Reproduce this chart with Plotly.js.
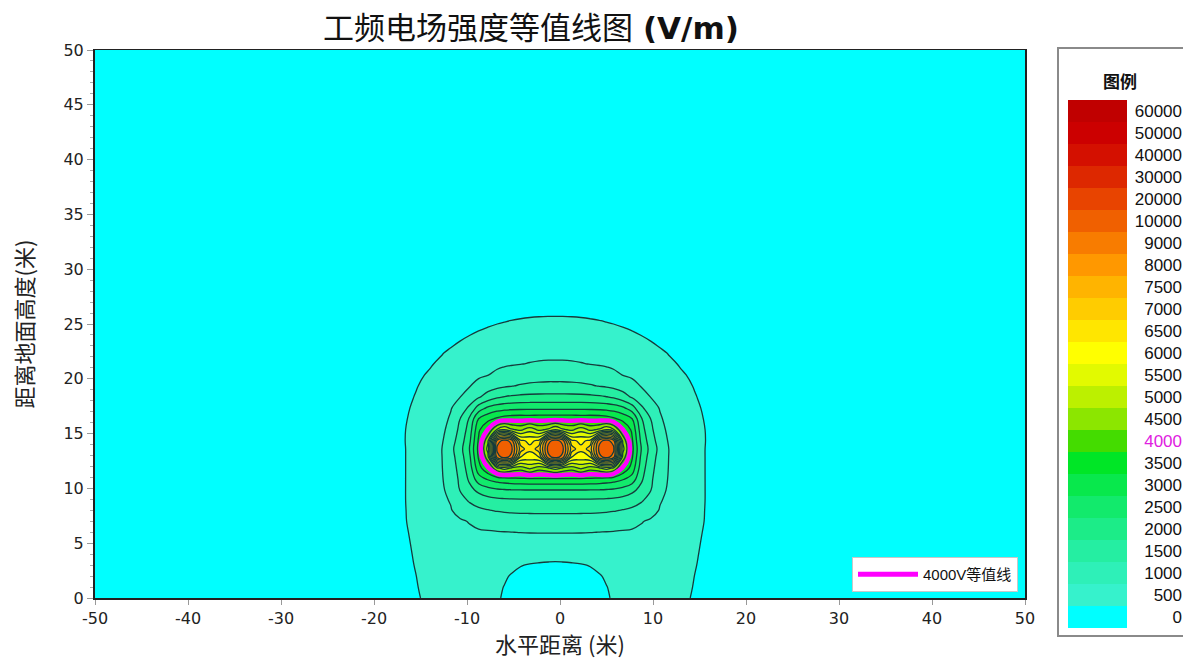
<!DOCTYPE html>
<html><head><meta charset="utf-8">
<script src="https://cdn.plot.ly/plotly-3.0.1.min.js"></script>
<style>html,body{margin:0;padding:0;background:#fff}#chart{width:1183px;height:659px}</style>
</head><body><div id="chart"></div>
<script>
// horizontal positions (m) of the field grid columns
const xPos = [-20.5,-18.5,-17,-15.5,-14,-12.75,-11.75,-10.75,-9.75,-8.75,-7.75,-6.75,-6,-5.25,-4.25,-3.25,-2.25,-1.25,-0.5,0.25,1.25,2.25,3.25,4.25,5,5.75,6.75,7.75,8.75,9.75,10.75,11.75,13,14.5,16,17.5,19.5];
// heights (m) of the field grid rows
const yPos = [0,1,2,3,4,5,6,7,8,8.85,9.85,10.85,11.85,12.85,13.6,14.35,15.35,16.35,17.35,18.35,19.35,20.35,21.35,22.35,24,26,28,30];
// field strength (V/m), one row per height
const fieldRows = [
[330,380,430,480,540,590,625,640,630,600,560,508,492,475,450,435,425,420,420,420,425,435,450,475,492,508,560,600,630,640,625,590,540,480,430,380,330],
[330,380,428,488,560,605,640,650,640,610,570,520,497,480,455,440,430,425,425,425,430,440,455,480,497,520,570,610,640,650,640,605,560,488,428,380,330],
[332,382,428,497,580,630,665,675,660,630,590,545,515,492,472,458,448,442,440,442,448,458,472,492,515,545,590,630,660,675,665,630,580,497,428,382,332],
[335,385,435,510,610,665,700,715,700,670,630,585,555,530,505,492,485,480,478,480,485,492,505,530,555,585,630,670,700,715,700,665,610,510,435,385,335],
[338,390,440,522,650,715,760,780,770,740,700,660,630,605,580,565,555,550,549,550,555,565,580,605,630,660,700,740,770,780,760,715,650,522,440,390,338],
[340,395,447,535,700,790,850,870,880,865,845,825,810,800,790,785,782,780,780,780,782,785,790,800,810,825,845,865,880,870,850,790,700,535,447,395,340],
[343,400,456,550,740,845,910,925,942,951,962,977,988,996,1008,1016,1019,1019,1019,1019,1019,1016,1008,996,988,977,962,951,942,925,910,845,740,550,456,400,343],
[346,405,467,565,770,885,950,960,1017,1124,1194,1240,1260,1275,1285,1290,1292,1292,1292,1292,1292,1290,1285,1275,1260,1240,1194,1124,1017,960,950,885,770,565,467,405,346],
[348,408,466,580,790,915,980,1113,1294,1411,1480,1530,1553,1570,1581,1585,1588,1588,1588,1588,1588,1585,1581,1570,1553,1530,1480,1411,1294,1113,980,915,790,580,466,408,348],
[350,410,467,590,800,935,1018,1317,1535,1699,1793,1850,1872,1885,1896,1900,1901,1901,1901,1901,1901,1900,1896,1885,1872,1850,1793,1699,1535,1317,1018,935,800,590,467,410,350],
[350,410,464,600,810,952,1089,1519,1854,2118,2317,2423,2458,2479,2493,2498,2498,2498,2498,2498,2498,2498,2493,2479,2458,2423,2317,2118,1854,1519,1089,952,810,600,464,410,350],
[350,410,460,610,817,965,1160,1597,2079,2773,3056,3221,3302,3364,3407,3427,3437,3437,3437,3437,3437,3427,3407,3364,3302,3221,3056,2773,2079,1597,1160,965,817,610,460,410,350],
[350,410,456,620,822,973,1230,1675,2227,3298,3925,4900,5200,4950,4750,5100,4750,4950,5200,4950,4750,5100,4750,4950,5200,4900,3925,3298,2227,1675,1230,973,822,620,456,410,350],
[350,410,453,628,824,978,1301,1753,2374,3560,4800,9500,14000,9700,6500,6300,6500,9700,14000,9700,6500,6300,6500,9700,14000,9500,4800,3560,2374,1753,1301,978,824,628,453,410,350],
[350,410,450,637,825,981,1354,1812,2484,3640,5200,13000,18000,14000,7300,6600,7300,14000,18000,14000,7300,6600,7300,14000,18000,13000,5200,3640,2484,1812,1354,981,825,637,450,410,350],
[347,405,464,617,792,939,1275,1727,2366,3570,4900,9500,14000,9700,6600,6400,6600,9700,14000,9700,6600,6400,6600,9700,14000,9500,4900,3570,2366,1727,1275,939,792,617,464,405,347],
[343,400,467,591,747,882,1169,1613,2209,3406,4030,5100,5500,5100,4900,5300,4900,5100,5500,5100,4900,5300,4900,5100,5500,5100,4030,3406,2209,1613,1169,882,747,591,467,400,343],
[338,392,458,565,703,825,1063,1498,2052,3012,3347,3590,3732,3787,3808,3788,3818,3818,3818,3818,3818,3788,3808,3787,3732,3590,3347,3012,2052,1498,1063,825,703,565,458,392,338],
[332,385,448,538,658,769,965,1237,1576,2208,2586,2741,2800,2836,2857,2866,2866,2866,2866,2866,2866,2866,2857,2836,2800,2741,2586,2208,1576,1237,965,769,658,538,448,385,332],
[326,375,430,512,614,712,880,990,1232,1438,1706,1921,2014,2068,2110,2131,2140,2140,2140,2140,2140,2131,2110,2068,2014,1921,1706,1438,1232,990,880,712,614,512,430,375,326],
[318,365,388,486,569,655,795,894,975,1127,1276,1380,1438,1481,1539,1584,1609,1619,1619,1619,1609,1584,1539,1481,1438,1380,1276,1127,975,894,795,655,569,486,388,365,318],
[310,355,375,459,525,599,711,798,872,936,990,1088,1153,1203,1250,1280,1298,1307,1307,1307,1298,1280,1250,1203,1153,1088,990,936,872,798,711,599,525,459,375,355,310],
[302,345,362,433,480,542,626,701,768,828,878,920,946,968,992,1018,1041,1053,1053,1053,1041,1018,992,968,946,920,878,828,768,701,626,542,480,433,362,345,302],
[295,335,350,407,436,486,541,605,665,719,765,805,829,850,873,888,898,904,905,904,898,888,873,850,829,805,765,719,665,605,541,486,436,407,350,335,295],
[275,305,320,365,370,393,400,446,494,540,580,615,637,656,676,691,700,704,705,704,700,691,676,656,637,615,580,540,494,446,400,393,370,365,320,305,275],
[245,265,275,280,285,290,295,298,300,324,355,385,403,420,438,451,459,463,464,463,459,451,438,420,403,385,355,324,300,298,295,290,285,280,275,265,245],
[225,242,250,256,262,268,275,280,285,300,320,340,355,370,375,385,395,400,400,400,395,385,375,370,355,340,320,300,285,280,275,268,262,256,250,242,225],
[210,222,230,236,242,248,255,262,268,280,295,310,320,328,330,335,338,340,340,340,338,335,330,328,320,310,295,280,268,262,255,248,242,236,230,222,210]
];
// contour levels (V/m) as in the legend
const levels = [0,500,1000,1500,2000,2500,3000,3500,4000,4500,5000,5500,6000,6500,7000,7500,8000,9000,10000,20000,30000,40000,50000,60000];
const legendLabels = ['0','500','1000','1500','2000','2500','3000','3500','4000','4500','5000','5500','6000','6500','7000','7500','8000','9000','10000','20000','30000','40000','50000','60000'];
const bandColors = ['#00ffff','#36f2cc','#2ef0b8','#25eea2','#1cec88','#12ea6c','#08e84c','#00e626','#44dc00','#8ce600','#bcf000','#e2fa00','#ffff00','#ffe600','#ffcc00','#ffb400','#ff9800','#f87c00','#f06000','#e84400','#dd2800','#d41000','#cc0000','#c00000'];
const xTickVals = [-50,-40,-30,-20,-10,0,10,20,30,40,50];
const xTickLabels = ['-50','-40','-30','-20','-10','0','10','20','30','40','50'];
const highlightLevel = 4000;
const highlightName = '4000V等值线';

function toIndex(v){
  const n = levels.length;
  if (v >= levels[n-1]) return (n-1) + (v - levels[n-1]) / 10000;
  for (let k = 0; k < n-1; k++){
    if (v < levels[k+1]) return k + (v - levels[k]) / (levels[k+1] - levels[k]);
  }
  return n-1;
}
const zIdx = fieldRows.map(r => r.map(toIndex));
const NB = bandColors.length;
const cscale = [];
for (let k = 0; k < NB; k++){
  const lo = k === 0 ? 0 : (k - 0.25) / NB;
  const hi = k === NB-1 ? 1 : (k + 0.75) / NB;
  cscale.push([lo, bandColors[k]], [hi, bandColors[k]]);
}
const hiIdx = levels.indexOf(highlightLevel);

const traces = [
  {type:'contour', x:xPos, y:yPos, z:zIdx, colorscale:cscale, autocontour:false,
   contours:{start:1, end:NB, size:1, coloring:'fill', showlines:true},
   line:{color:'#163c3c', width:1.3, smoothing:1.2}, showscale:false, showlegend:false, hoverinfo:'skip'},
  {type:'contour', x:xPos, y:yPos, z:zIdx, autocontour:false,
   contours:{start:hiIdx, end:hiIdx, size:1, coloring:'none'},
   line:{color:'#ff00ff', width:4.5, smoothing:1.2}, showscale:false, showlegend:false, hoverinfo:'skip'},
  {type:'scatter', x:[null], y:[null], mode:'lines', name:highlightName,
   line:{color:'#ff00ff', width:5}, hoverinfo:'skip', showlegend:true},
  {type:'heatmap', xaxis:'x2', yaxis:'y2', x:[0], y:legendLabels.map((s,i)=>i),
   z:legendLabels.map((s,i)=>[i+0.25]), zmin:0, zmax:NB, colorscale:cscale,
   showscale:false, showlegend:false, hoverinfo:'skip'}
];

const W = 1183, H = 659;
const layout = {
  width:W, height:H, margin:{l:0,r:0,t:0,b:0,pad:0},
  paper_bgcolor:'#ffffff', plot_bgcolor:bandColors[0],
  font:{family:'"DejaVu Sans","Noto Sans CJK SC",sans-serif', color:'#222', size:16},
  title:{text:'工频电场强度等值线图 <b>(V/m)</b>', x:531/W, xref:'container', xanchor:'center',
         y:1-28/H, yref:'container', yanchor:'middle',
         font:{size:31, family:'"DejaVu Sans","Noto Sans CJK SC",sans-serif', color:'#111'}},
  xaxis:{domain:[95/W, 1025/W], range:[-50,50], tickmode:'array', tickvals:xTickVals, ticktext:xTickLabels,
         ticks:'outside', ticklen:5,
         tickcolor:'#999', showline:true, linecolor:'#222', linewidth:1.5, mirror:true,
         showgrid:false, zeroline:false, automargin:false, tickfont:{size:16, color:'#222'},
         title:{text:'水平距离 (米)', standoff:4, font:{size:22, family:'"Noto Sans CJK SC",sans-serif', color:'#222'}}},
  yaxis:{domain:[(H-598)/H, (H-50)/H], range:[0,50], tick0:0, dtick:5, ticks:'outside', ticklen:6,
         tickcolor:'#999', minor:{dtick:1, ticks:'outside', ticklen:3, tickcolor:'#aaa', showgrid:false},
         showline:true, linecolor:'#222', linewidth:2, mirror:true, showgrid:false, zeroline:false,
         automargin:false, tickfont:{size:16, color:'#222'},
         title:{text:'距离地面高度(米)', standoff:24, font:{size:22, family:'"Noto Sans CJK SC",sans-serif', color:'#222'}}},
  xaxis2:{domain:[1068/W, 1127/W], anchor:'y2', visible:false, range:[-0.5,0.5], fixedrange:true},
  yaxis2:{domain:[(H-628)/H, (H-100)/H], anchor:'free', position:1182/W, side:'left',
          range:[-0.5, NB-0.5], tickmode:'array', tickvals:legendLabels.map((s,i)=>i),
          ticktext:legendLabels.map(s => s === String(highlightLevel) ? '<span style="color:#e020e0">'+s+'</span>' : s),
          ticks:'', showline:false, showgrid:false, zeroline:false, fixedrange:true, automargin:false,
          tickfont:{size:17, family:'"Liberation Sans",Arial,sans-serif', color:'#111'}},
  shapes:[{type:'rect', xref:'paper', yref:'paper', x0:1058/W, x1:1.02, y0:(H-636)/H, y1:(H-48)/H,
           line:{color:'#8a8a8a', width:2}, fillcolor:'#ffffff', layer:'below'}],
  annotations:[{text:'<b>图例</b>', xref:'paper', yref:'paper', x:1120/W, y:(H-81)/H, xanchor:'center', yanchor:'middle', showarrow:false,
                font:{size:17, family:'"Noto Sans CJK SC",sans-serif', color:'#111'}}],
  showlegend:true,
  legend:{x:1018/W, xanchor:'right', y:(H-592)/H, yanchor:'bottom', bgcolor:'#ffffff', itemwidth:60,
          bordercolor:'#c8c8c8', borderwidth:1, font:{size:15, family:'"Liberation Sans","Noto Sans CJK SC",sans-serif', color:'#111'}}
};
Plotly.newPlot('chart', traces, layout, {displayModeBar:false, staticPlot:true});
</script></body></html>
